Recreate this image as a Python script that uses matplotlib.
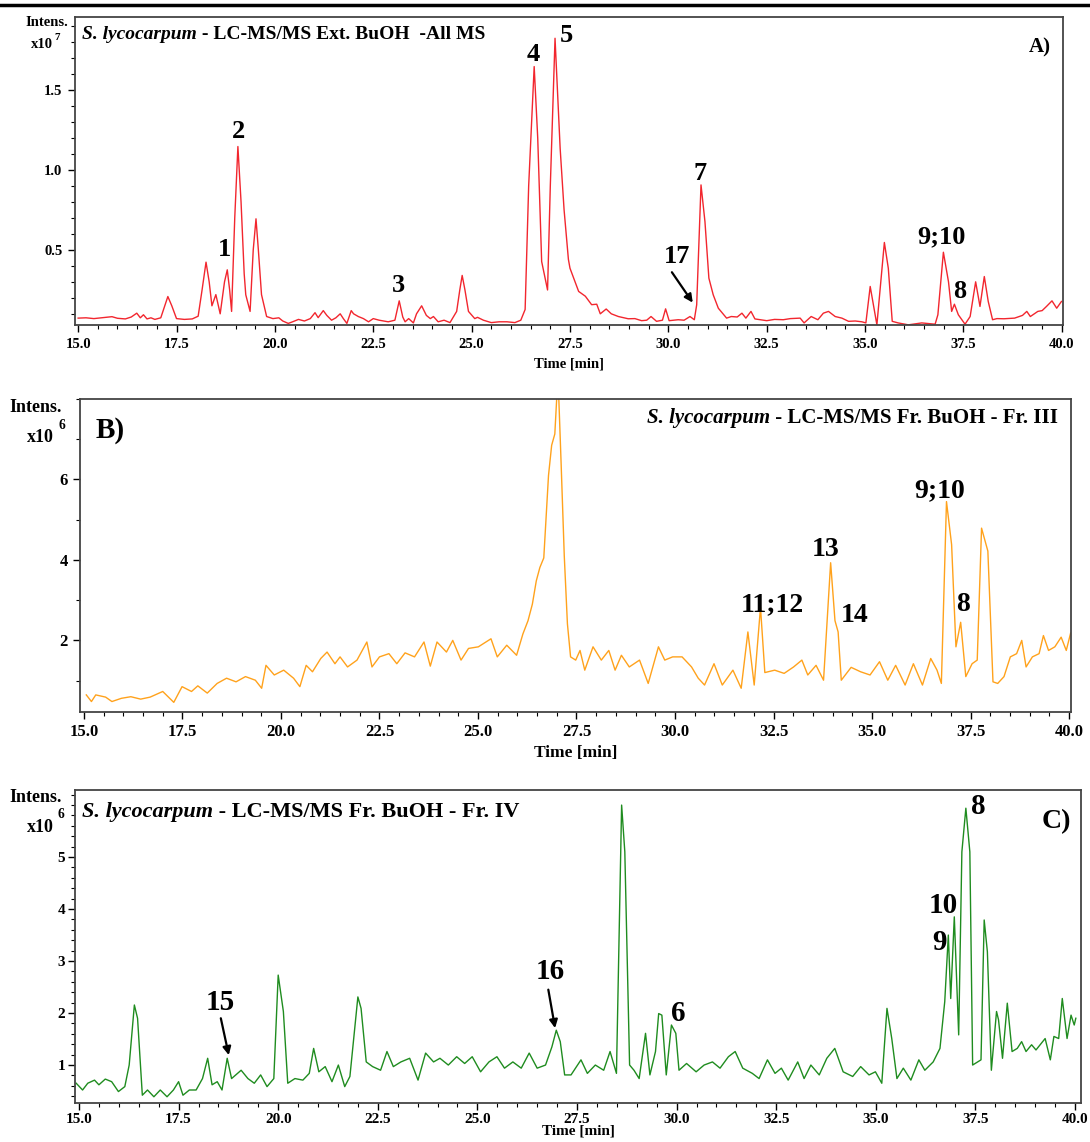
import matplotlib
matplotlib.use("Agg")
import matplotlib.pyplot as plt
from matplotlib.lines import Line2D
from matplotlib.ticker import MultipleLocator, FixedLocator

plt.rcParams["font.family"] = "Liberation Serif"
plt.rcParams["font.weight"] = "bold"

W, H = 1090, 1142

# ── Panel A: Ext. BuOH, All MS (x1e7) ─────────────────────────────────────────
time_a = [15.0, 15.2, 15.4, 15.6, 15.86, 16.0, 16.2, 16.35, 16.49, 16.58, 16.66, 16.75,
          16.85, 16.95, 17.1, 17.2, 17.28, 17.38, 17.5, 17.7, 17.9, 18.05, 18.15, 18.25,
          18.33, 18.4, 18.5, 18.61, 18.72, 18.79, 18.85, 18.9, 18.98, 19.06, 19.14, 19.22,
          19.26, 19.37, 19.45, 19.52, 19.58, 19.66, 19.79, 19.95, 20.1, 20.2, 20.34, 20.45,
          20.6, 20.75, 20.9, 21.02, 21.1, 21.23, 21.32, 21.44, 21.55, 21.66, 21.74, 21.83,
          21.94, 22.0, 22.12, 22.25, 22.38, 22.5, 22.65, 22.88, 23.05, 23.16, 23.25, 23.31,
          23.4, 23.52, 23.6, 23.73, 23.85, 23.95, 24.03, 24.15, 24.3, 24.45, 24.62, 24.7,
          24.76, 24.83, 24.92, 25.08, 25.15, 25.3, 25.5, 25.7, 25.9, 26.1, 26.25, 26.36,
          26.45, 26.59, 26.68, 26.78, 26.93, 27.0, 27.12, 27.25, 27.35, 27.46, 27.5, 27.63,
          27.72, 27.89, 28.05, 28.18, 28.27, 28.42, 28.55, 28.73, 28.98, 29.15, 29.32, 29.45,
          29.56, 29.7, 29.85, 29.93, 30.02, 30.25, 30.4, 30.55, 30.66, 30.72, 30.83, 30.93,
          31.03, 31.14, 31.27, 31.48, 31.6, 31.75, 31.87, 31.97, 32.1, 32.2, 32.5, 32.7,
          32.92, 33.1, 33.35, 33.45, 33.63, 33.8, 33.94, 34.07, 34.24, 34.41, 34.58, 34.75,
          34.92, 35.02, 35.13, 35.24, 35.3, 35.49, 35.59, 35.69, 35.84, 36.1, 36.44, 36.78,
          36.85, 36.99, 37.12, 37.2, 37.27, 37.37, 37.54, 37.67, 37.81, 37.92, 38.03, 38.13,
          38.24, 38.35, 38.53, 38.8, 39.0, 39.11, 39.2, 39.39, 39.5, 39.61, 39.75, 39.87,
          39.99]
int_a = [0.073, 0.075, 0.07, 0.075, 0.082, 0.072, 0.068, 0.08, 0.104, 0.075, 0.094, 0.068,
         0.075, 0.065, 0.075, 0.15, 0.208, 0.15, 0.07, 0.065, 0.068, 0.085, 0.25, 0.423,
         0.3, 0.15, 0.22, 0.10, 0.3, 0.375, 0.25, 0.115, 0.7, 1.146, 0.8, 0.35,
         0.219, 0.115, 0.5, 0.694, 0.5, 0.22, 0.083, 0.07, 0.075, 0.055, 0.04, 0.05,
         0.065, 0.055, 0.07, 0.107, 0.076, 0.12, 0.09, 0.06, 0.075, 0.1, 0.07, 0.04,
         0.12, 0.1, 0.083, 0.07, 0.05, 0.07, 0.06, 0.05, 0.06, 0.181, 0.08, 0.05,
         0.07, 0.043, 0.1, 0.15, 0.09, 0.07, 0.083, 0.05, 0.06, 0.045, 0.115, 0.25,
         0.34, 0.25, 0.115, 0.07, 0.078, 0.06, 0.045, 0.05, 0.05, 0.045, 0.06, 0.127,
         0.9, 1.646, 1.2, 0.427, 0.249, 0.9, 1.823, 1.135, 0.75, 0.44, 0.385, 0.30,
         0.24, 0.21, 0.157, 0.16, 0.1, 0.13, 0.1, 0.083, 0.069, 0.07, 0.057, 0.06,
         0.083, 0.053, 0.06, 0.131, 0.057, 0.063, 0.06, 0.083, 0.063, 0.156, 0.906, 0.677,
         0.323, 0.219, 0.135, 0.073, 0.083, 0.08, 0.104, 0.073, 0.115, 0.068, 0.057, 0.065,
         0.063, 0.07, 0.073, 0.043, 0.083, 0.063, 0.104, 0.115, 0.083, 0.073, 0.053, 0.055,
         0.05, 0.043, 0.271, 0.115, 0.031, 0.546, 0.385, 0.053, 0.043, 0.031, 0.043, 0.035,
         0.094, 0.485, 0.3, 0.115, 0.16, 0.094, 0.035, 0.083, 0.3, 0.146, 0.333, 0.177,
         0.063, 0.07, 0.069, 0.073, 0.09, 0.115, 0.083, 0.115, 0.12, 0.146, 0.181, 0.135,
         0.177]

# ── Panel B: Fr. BuOH - Fr. III (x1e6) ────────────────────────────────────────
time_b = [15.06, 15.19, 15.3, 15.55, 15.71, 15.95, 16.19, 16.44, 16.68, 17.0, 17.28, 17.49,
          17.73, 17.89, 18.13, 18.38, 18.62, 18.86, 19.1, 19.35, 19.51, 19.62, 19.83, 20.07,
          20.32, 20.48, 20.64, 20.8, 21.01, 21.17, 21.37, 21.5, 21.69, 21.93, 22.18, 22.31,
          22.5, 22.74, 22.94, 23.15, 23.39, 23.63, 23.79, 23.96, 24.2, 24.36, 24.57, 24.76,
          25.01, 25.33, 25.49, 25.73, 25.98, 26.14, 26.27, 26.38, 26.48, 26.57, 26.67, 26.79,
          26.87, 26.95, 27.03, 27.11, 27.19, 27.27, 27.35, 27.48, 27.59, 27.71, 27.92, 28.13,
          28.32, 28.48, 28.64, 28.84, 29.1, 29.32, 29.58, 29.74, 29.94, 30.18, 30.42, 30.59,
          30.75, 30.99, 31.2, 31.47, 31.68, 31.85, 32.01, 32.17, 32.28, 32.53, 32.77, 33.01,
          33.22, 33.37, 33.58, 33.77, 33.95, 34.06, 34.14, 34.22, 34.47, 34.71, 34.95, 35.19,
          35.4, 35.6, 35.84, 36.05, 36.28, 36.49, 36.65, 36.76, 36.89, 37.02, 37.13, 37.25,
          37.38, 37.54, 37.67, 37.78, 37.94, 38.07, 38.19, 38.35, 38.51, 38.67, 38.8, 38.91,
          39.07, 39.24, 39.35, 39.48, 39.64, 39.8, 39.93, 40.04]
int_b = [0.645, 0.48, 0.645, 0.59, 0.48, 0.56, 0.6, 0.54, 0.59, 0.73, 0.46, 0.85,
         0.73, 0.87, 0.69, 0.93, 1.06, 0.97, 1.1, 1.01, 0.81, 1.38, 1.14, 1.26,
         1.06, 0.85, 1.38, 1.22, 1.55, 1.71, 1.42, 1.59, 1.34, 1.51, 1.96, 1.34,
         1.59, 1.67, 1.42, 1.69, 1.59, 1.96, 1.36, 1.96, 1.71, 2.0, 1.51, 1.8,
         1.84, 2.04, 1.59, 1.88, 1.63, 2.16, 2.49, 2.9, 3.48, 3.81, 4.05, 6.1,
         6.85, 7.13, 8.6, 6.4, 4.1, 2.41, 1.59, 1.51, 1.75, 1.26, 1.84, 1.51,
         1.75, 1.26, 1.63, 1.34, 1.51, 0.93, 1.84, 1.51, 1.59, 1.59, 1.34, 1.06,
         0.89, 1.42, 0.89, 1.26, 0.81, 2.21, 0.89, 2.82, 1.2, 1.26, 1.18, 1.34,
         1.51, 1.14, 1.38, 1.01, 3.93, 2.49, 2.21, 1.01, 1.33, 1.22, 1.14, 1.47,
         1.01, 1.38, 0.89, 1.42, 0.89, 1.55, 1.26, 0.93, 5.45, 4.38, 1.84, 2.45,
         1.1, 1.42, 1.51, 4.79, 4.22, 0.97, 0.93, 1.1, 1.59, 1.67, 2.0, 1.34,
         1.59, 1.67, 2.12, 1.75, 1.84, 2.08, 1.75, 2.18]

# ── Panel C: Fr. BuOH - Fr. IV (x1e6) ─────────────────────────────────────────
time_c = [14.93, 15.09, 15.22, 15.39, 15.5, 15.66, 15.82, 15.99, 16.15, 16.26, 16.39, 16.47,
          16.59, 16.72, 16.88, 17.04, 17.21, 17.37, 17.5, 17.61, 17.77, 17.94, 18.1, 18.23,
          18.34, 18.47, 18.59, 18.72, 18.83, 19.07, 19.24, 19.4, 19.56, 19.72, 19.89, 20.0,
          20.13, 20.24, 20.42, 20.62, 20.78, 20.89, 21.02, 21.18, 21.35, 21.51, 21.67, 21.8,
          22.0, 22.08, 22.21, 22.37, 22.57, 22.73, 22.89, 23.08, 23.3, 23.51, 23.7, 23.9,
          24.06, 24.27, 24.48, 24.68, 24.87, 25.08, 25.29, 25.49, 25.68, 25.89, 26.1, 26.3,
          26.5, 26.71, 26.87, 26.98, 27.08, 27.19, 27.35, 27.6, 27.76, 27.96, 28.17, 28.33,
          28.49, 28.62, 28.7, 28.82, 28.93, 29.06, 29.22, 29.33, 29.47, 29.55, 29.63, 29.74,
          29.87, 29.98, 30.06, 30.25, 30.49, 30.69, 30.9, 31.09, 31.3, 31.47, 31.66, 31.9,
          32.07, 32.28, 32.47, 32.63, 32.8, 33.04, 33.2, 33.37, 33.58, 33.77, 33.97, 34.18,
          34.42, 34.62, 34.83, 34.99, 35.15, 35.28, 35.4, 35.53, 35.69, 35.88, 36.08, 36.23,
          36.44, 36.61, 36.73, 36.82, 36.88, 36.97, 37.08, 37.16, 37.26, 37.36, 37.43, 37.64,
          37.72, 37.8, 37.9, 38.03, 38.08, 38.18, 38.3, 38.42, 38.55, 38.66, 38.77, 38.91,
          39.02, 39.25, 39.38, 39.47, 39.59, 39.68, 39.8, 39.9, 39.98, 40.02]
int_c = [0.65, 0.52, 0.65, 0.71, 0.62, 0.73, 0.68, 0.49, 0.585, 1.0, 2.155, 1.9,
         0.42, 0.52, 0.39, 0.52, 0.39, 0.52, 0.68, 0.42, 0.52, 0.52, 0.74, 1.13,
         0.62, 0.68, 0.52, 1.13, 0.74, 0.9, 0.74, 0.65, 0.81, 0.585, 0.74, 2.73,
         2.03, 0.65, 0.74, 0.71, 0.84, 1.32, 0.87, 0.97, 0.68, 1.0, 0.585, 0.78,
         2.31, 2.09, 1.06, 0.97, 0.9, 1.26, 0.97, 1.06, 1.13, 0.71, 1.23, 1.06,
         1.13, 1.0, 1.16, 1.03, 1.16, 0.87, 1.06, 1.16, 0.94, 1.06, 0.94, 1.23,
         0.94, 1.0, 1.35, 1.67, 1.45, 0.81, 0.81, 1.1, 0.84, 1.0, 0.9, 1.26,
         0.84, 6.0, 5.1, 1.0, 0.9, 0.74, 1.61, 0.81, 1.26, 1.99, 1.96, 0.81,
         1.77, 1.61, 0.9, 1.03, 0.87, 1.0, 1.06, 0.94, 1.16, 1.26, 0.94, 0.84,
         0.74, 1.1, 0.84, 0.94, 0.71, 1.06, 0.74, 1.0, 0.81, 1.13, 1.32, 0.87,
         0.78, 0.97, 0.81, 0.87, 0.65, 2.09, 1.51, 0.74, 0.94, 0.71, 1.1, 0.9,
         1.06, 1.32, 2.22, 3.5, 2.28, 3.85, 1.58, 5.1, 5.94, 5.1, 1.0, 1.1,
         3.79, 3.18, 0.9, 2.03, 1.87, 1.13, 2.19, 1.26, 1.32, 1.45, 1.26, 1.39,
         1.29, 1.51, 1.1, 1.55, 1.51, 2.28, 1.51, 1.96, 1.77, 1.9]

yticks_a = [0.5, 1.0, 1.5]
yticks_b = [2, 4, 6]
yticks_c = [1, 2, 3, 4, 5]

COLOR_A = "#f2262e"
COLOR_B = "#ffa21c"
COLOR_C = "#1f8c1f"


def px(x, y):
    return x / W, 1 - y / H


def make_axes(fig, l, t, r, b):
    x0, y1 = px(l, t)
    x1, y0 = px(r, b)
    return fig.add_axes([x0, y0, x1 - x0, y1 - y0])


def style_axes(ax, xlim, ylim, yticks, yminor, yfmt, lsize, pad=4):
    ax.set_xlim(xlim)
    ax.set_ylim(ylim)
    ax.xaxis.set_major_locator(MultipleLocator(2.5))
    ax.xaxis.set_minor_locator(MultipleLocator(0.5))
    ax.yaxis.set_major_locator(FixedLocator(yticks))
    ax.yaxis.set_minor_locator(MultipleLocator(yminor))
    ax.xaxis.set_major_formatter(lambda v, p: f"{v:.1f}")
    ax.yaxis.set_major_formatter(yfmt)
    ax.tick_params(which="major", length=5, width=1.0, labelsize=lsize, pad=pad)
    ax.tick_params(which="minor", length=3, width=0.8)
    for s in ax.spines.values():
        s.set_color("#444444")
        s.set_linewidth(1.3)
    for lab in ax.get_xticklabels() + ax.get_yticklabels():
        lab.set_fontweight("bold")


def title_left(ax, x, y, rest, size):
    t1 = ax.text(x, y, "S. lycocarpum", transform=ax.transAxes, fontsize=size,
                 fontstyle="italic", fontweight="bold", ha="left", va="center")
    ax.annotate(" " + rest, xy=(1, 0), xycoords=t1, fontsize=size,
                fontweight="bold", ha="left", va="bottom")


def title_right(ax, x, y, rest, size):
    t2 = ax.text(x, y, " " + rest, transform=ax.transAxes, fontsize=size,
                 fontweight="bold", ha="right", va="center")
    ax.annotate("S. lycocarpum", xy=(0, 0), xycoords=t2, fontsize=size,
                fontstyle="italic", fontweight="bold", ha="right", va="bottom")


def intens_label(fig, x1, y1, x2, y2, xe, ye, exp, size):
    fig.text(*px(x1, y1), "Intens.", fontsize=size, fontweight="bold", ha="right", va="center")
    fig.text(*px(x2, y2), "x10", fontsize=size, fontweight="bold", ha="right", va="center")
    fig.text(*px(xe, ye), exp, fontsize=size * 0.75, fontweight="bold", ha="center", va="center")


def peak(ax, s, t, v, size):
    ax.text(t, v, s, fontsize=size, fontweight="bold", ha="center", va="center", clip_on=False)


def arrow(ax, t0, v0, t1, v1):
    ax.annotate("", xy=(t1, v1), xytext=(t0, v0),
                arrowprops=dict(arrowstyle="-|>", color="black", lw=1.6,
                                mutation_scale=12, shrinkA=0, shrinkB=0))


fig = plt.figure(figsize=(W / 100, H / 100), dpi=100)
fig.add_artist(Line2D([0, 1], [1 - 5 / H, 1 - 5 / H], color="black", lw=2.5,
                      transform=fig.transFigure))

# Panel A
ax_a = make_axes(fig, 75, 17, 1063, 325)
ax_a.plot(time_a, int_a, color=COLOR_A, lw=1.0)
style_axes(ax_a, (14.92, 40.03), (0.03, 1.956), yticks_a, 0.1, lambda v, p: f"{v:.1f}", 10.5)
ax_a.set_xlabel("Time [min]", fontsize=10.5, fontweight="bold", labelpad=5)
title_left(ax_a, 0.007, 0.942, "- LC-MS/MS Ext. BuOH  -All MS", 14)
ax_a.text(0.988, 0.9, "A)", transform=ax_a.transAxes, fontsize=15, fontweight="bold",
          ha="right", va="center")
intens_label(fig, 68, 23, 53, 45, 57, 38, "7", 10.5)
LA = 19
peak(ax_a, "1", 18.73, 0.5, LA)
peak(ax_a, "2", 19.07, 1.24, LA)
peak(ax_a, "3", 23.13, 0.28, LA)
peak(ax_a, "4", 26.56, 1.72, LA)
peak(ax_a, "5", 27.4, 1.84, LA)
peak(ax_a, "7", 30.8, 0.98, LA)
peak(ax_a, "17", 30.22, 0.46, LA)
arrow(ax_a, 30.09, 0.36, 30.62, 0.17)
peak(ax_a, "9;10", 36.93, 0.58, LA)
peak(ax_a, "8", 37.41, 0.24, LA)

# Panel B
ax_b = make_axes(fig, 80, 399, 1071, 712)
ax_b.plot(time_b, int_b, color=COLOR_B, lw=1.0)
style_axes(ax_b, (14.9, 40.05), (0.22, 8.0), yticks_b, 1, lambda v, p: f"{v:.0f}", 12)
ax_b.set_xlabel("Time [min]", fontsize=12.5, fontweight="bold", labelpad=3)
title_right(ax_b, 0.987, 0.938, "- LC-MS/MS Fr. BuOH - Fr. III", 15)
ax_b.text(0.016, 0.9, "B)", transform=ax_b.transAxes, fontsize=21, fontweight="bold",
          ha="left", va="center")
intens_label(fig, 62, 408, 54, 437, 62, 425, "6", 13)
LB = 20
peak(ax_b, "11;12", 32.46, 2.88, LB)
peak(ax_b, "13", 33.83, 4.27, LB)
peak(ax_b, "14", 34.57, 2.63, LB)
peak(ax_b, "9;10", 36.72, 5.71, LB)
peak(ax_b, "8", 37.31, 2.88, LB)

# Panel C
ax_c = make_axes(fig, 75, 790, 1081, 1103)
ax_c.plot(time_c, int_c, color=COLOR_C, lw=1.0)
style_axes(ax_c, (14.9, 40.15), (0.27, 6.29), yticks_c, 0.2, lambda v, p: f"{v:.0f}", 11, pad=2)
ax_c.set_xlabel("Time [min]", fontsize=11, fontweight="bold", labelpad=-1)
title_left(ax_c, 0.007, 0.93, "- LC-MS/MS Fr. BuOH - Fr. IV", 16)
ax_c.text(0.99, 0.9, "C)", transform=ax_c.transAxes, fontsize=20, fontweight="bold",
          ha="right", va="center")
intens_label(fig, 62, 797, 54, 828, 61, 815, "6", 13)
LC = 21
peak(ax_c, "15", 18.54, 2.21, LC)
arrow(ax_c, 18.56, 1.9, 18.76, 1.19)
peak(ax_c, "16", 26.83, 2.79, LC)
arrow(ax_c, 26.78, 2.45, 26.95, 1.71)
peak(ax_c, "6", 30.03, 2.0, LC)
peak(ax_c, "10", 36.7, 4.06, LC)
peak(ax_c, "9", 36.6, 3.35, LC)
peak(ax_c, "8", 37.58, 5.98, LC)

fig.savefig("out.png", dpi=100)
